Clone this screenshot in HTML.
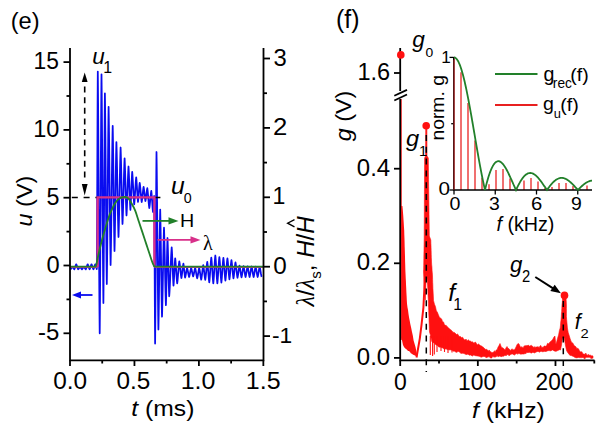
<!DOCTYPE html>
<html><head><meta charset="utf-8"><style>
html,body{margin:0;padding:0;background:#fff;width:606px;height:430px;overflow:hidden}
svg{display:block}
</style></head><body>
<svg width="606" height="430" viewBox="0 0 606 430">
<rect width="606" height="430" fill="#fff"/>
<path d="M70.50 269.30 L70.60 269.21 L70.70 269.12 L70.80 269.00 L70.90 268.88 L71.00 268.74 L71.10 268.60 L71.20 268.45 L71.30 268.29 L71.40 268.13 L71.50 267.97 L71.60 267.81 L71.70 267.65 L71.80 267.50 L71.90 267.36 L72.00 267.22 L72.10 267.10 L72.20 266.98 L72.30 266.89 L72.40 266.80 L72.50 266.89 L72.60 266.98 L72.70 267.10 L72.80 267.22 L72.91 267.36 L73.01 267.50 L73.11 267.65 L73.21 267.81 L73.31 267.97 L73.41 268.13 L73.51 268.29 L73.61 268.45 L73.71 268.60 L73.81 268.74 L73.92 268.88 L74.02 269.00 L74.12 269.12 L74.22 269.21 L74.32 269.30 L74.42 269.13 L74.52 268.93 L74.62 268.71 L74.72 268.46 L74.82 268.19 L74.92 267.90 L75.02 267.60 L75.12 267.28 L75.22 266.96 L75.32 266.64 L75.42 266.32 L75.52 266.00 L75.62 265.70 L75.72 265.41 L75.82 265.14 L75.92 264.89 L76.02 264.67 L76.12 264.47 L76.22 264.30 L76.32 264.47 L76.42 264.67 L76.52 264.89 L76.62 265.14 L76.73 265.41 L76.83 265.70 L76.93 266.00 L77.03 266.32 L77.13 266.64 L77.23 266.96 L77.33 267.28 L77.43 267.60 L77.53 267.90 L77.63 268.19 L77.74 268.46 L77.84 268.71 L77.94 268.93 L78.04 269.13 L78.14 269.30 L78.24 269.21 L78.34 269.12 L78.44 269.00 L78.54 268.88 L78.64 268.74 L78.74 268.60 L78.84 268.45 L78.94 268.29 L79.04 268.13 L79.14 267.97 L79.24 267.81 L79.34 267.65 L79.44 267.50 L79.54 267.36 L79.64 267.22 L79.74 267.10 L79.84 266.98 L79.94 266.89 L80.04 266.80 L80.14 266.89 L80.24 266.98 L80.34 267.10 L80.44 267.22 L80.55 267.36 L80.65 267.50 L80.75 267.65 L80.85 267.81 L80.95 267.97 L81.05 268.13 L81.15 268.29 L81.25 268.45 L81.35 268.60 L81.45 268.74 L81.56 268.88 L81.66 269.00 L81.76 269.12 L81.86 269.21 L81.96 269.30 L82.06 269.21 L82.16 269.12 L82.26 269.00 L82.36 268.88 L82.46 268.74 L82.56 268.60 L82.66 268.45 L82.76 268.29 L82.86 268.13 L82.96 267.97 L83.06 267.81 L83.16 267.65 L83.26 267.50 L83.36 267.36 L83.46 267.22 L83.56 267.10 L83.66 266.98 L83.76 266.89 L83.86 266.80 L83.96 266.89 L84.06 266.98 L84.16 267.10 L84.26 267.22 L84.37 267.36 L84.47 267.50 L84.57 267.65 L84.67 267.81 L84.77 267.97 L84.87 268.13 L84.97 268.29 L85.07 268.45 L85.17 268.60 L85.27 268.74 L85.38 268.88 L85.48 269.00 L85.58 269.12 L85.68 269.21 L85.78 269.30 L85.88 269.13 L85.98 268.93 L86.08 268.71 L86.18 268.46 L86.28 268.19 L86.38 267.90 L86.48 267.60 L86.58 267.28 L86.68 266.96 L86.78 266.64 L86.88 266.32 L86.98 266.00 L87.08 265.70 L87.18 265.41 L87.28 265.14 L87.38 264.89 L87.48 264.67 L87.58 264.47 L87.68 264.30 L87.78 264.47 L87.88 264.67 L87.98 264.89 L88.08 265.14 L88.19 265.41 L88.29 265.70 L88.39 266.00 L88.49 266.32 L88.59 266.64 L88.69 266.96 L88.79 267.28 L88.89 267.60 L88.99 267.90 L89.09 268.19 L89.20 268.46 L89.30 268.71 L89.40 268.93 L89.50 269.13 L89.60 269.30 L89.70 269.13 L89.80 268.93 L89.90 268.71 L90.00 268.46 L90.10 268.19 L90.20 267.90 L90.30 267.60 L90.40 267.28 L90.50 266.96 L90.60 266.64 L90.70 266.32 L90.80 266.00 L90.90 265.70 L91.00 265.41 L91.10 265.14 L91.20 264.89 L91.30 264.67 L91.40 264.47 L91.50 264.30 L91.60 264.47 L91.70 264.67 L91.80 264.89 L91.90 265.14 L92.01 265.41 L92.11 265.70 L92.21 266.00 L92.31 266.32 L92.41 266.64 L92.51 266.96 L92.61 267.28 L92.71 267.60 L92.81 267.90 L92.91 268.19 L93.02 268.46 L93.12 268.71 L93.22 268.93 L93.32 269.13 L93.42 269.30 L93.52 269.13 L93.62 268.93 L93.72 268.71 L93.82 268.46 L93.92 268.19 L94.02 267.90 L94.12 267.60 L94.22 267.28 L94.32 266.96 L94.42 266.64 L94.52 266.32 L94.62 266.00 L94.72 265.70 L94.82 265.41 L94.92 265.14 L95.02 264.89 L95.12 264.67 L95.22 264.47 L95.32 264.30 L95.43 264.52 L95.53 264.80 L95.64 265.11 L95.74 265.46 L95.85 265.84 L95.95 266.24 L96.06 266.65 L96.17 267.06 L96.27 267.46 L96.38 267.84 L96.48 268.19 L96.59 268.50 L96.69 268.78 L96.80 269.00 L96.90 255.22 L97.00 237.77 L97.10 217.19 L97.20 194.34 L97.30 170.30 L97.40 146.26 L97.50 123.41 L97.60 102.83 L97.70 85.38 L97.80 71.60 L97.90 80.58 L98.00 90.96 L98.10 102.70 L98.20 115.69 L98.30 129.81 L98.40 144.90 L98.50 160.76 L98.60 177.20 L98.70 194.00 L98.80 210.90 L98.90 227.70 L99.00 244.14 L99.10 260.00 L99.20 275.09 L99.30 289.21 L99.40 302.20 L99.50 313.94 L99.60 324.32 L99.70 333.30 L99.81 323.28 L99.91 311.52 L100.02 298.12 L100.12 283.22 L100.23 267.01 L100.34 249.74 L100.44 231.69 L100.55 213.15 L100.65 194.45 L100.76 175.91 L100.86 157.86 L100.97 140.59 L101.08 124.38 L101.18 109.48 L101.29 96.08 L101.39 84.32 L101.50 74.30 L101.60 82.15 L101.70 91.22 L101.80 101.48 L101.90 112.83 L102.00 125.17 L102.10 138.36 L102.20 152.22 L102.30 166.59 L102.40 181.26 L102.50 196.04 L102.60 210.71 L102.70 225.08 L102.80 238.94 L102.90 252.13 L103.00 264.47 L103.10 275.82 L103.20 286.08 L103.30 295.15 L103.40 303.00 L103.50 293.70 L103.60 282.60 L103.70 269.83 L103.80 255.57 L103.90 240.09 L104.00 223.69 L104.10 206.73 L104.20 189.57 L104.30 172.61 L104.40 156.21 L104.50 140.73 L104.60 126.47 L104.70 113.70 L104.80 102.60 L104.90 93.30 L105.01 100.24 L105.11 108.31 L105.22 117.48 L105.32 127.65 L105.43 138.71 L105.53 150.51 L105.64 162.89 L105.74 175.67 L105.85 188.65 L105.96 201.63 L106.06 214.41 L106.17 226.79 L106.27 238.59 L106.38 249.65 L106.48 259.82 L106.59 268.99 L106.69 277.06 L106.80 284.00 L106.91 277.14 L107.01 269.10 L107.12 259.93 L107.22 249.73 L107.33 238.65 L107.44 226.83 L107.54 214.48 L107.65 201.80 L107.75 189.00 L107.86 176.32 L107.96 163.97 L108.07 152.15 L108.18 141.07 L108.28 130.87 L108.39 121.70 L108.49 113.66 L108.60 106.80 L108.70 111.94 L108.80 117.84 L108.90 124.49 L109.00 131.83 L109.10 139.80 L109.20 148.32 L109.30 157.30 L109.40 166.63 L109.50 176.20 L109.60 185.90 L109.70 195.60 L109.80 205.17 L109.90 214.50 L110.00 223.48 L110.10 232.00 L110.20 239.97 L110.30 247.31 L110.40 253.96 L110.50 259.86 L110.60 265.00 L110.70 260.71 L110.80 255.81 L110.90 250.31 L111.00 244.25 L111.10 237.68 L111.20 230.66 L111.30 223.24 L111.40 215.51 L111.50 207.56 L111.60 199.47 L111.70 191.33 L111.80 183.24 L111.90 175.29 L112.00 167.56 L112.10 160.14 L112.20 153.12 L112.30 146.55 L112.40 140.49 L112.50 134.99 L112.60 130.09 L112.70 125.80 L112.81 130.65 L112.91 136.33 L113.02 142.81 L113.12 150.01 L113.23 157.84 L113.34 166.19 L113.44 174.92 L113.55 183.88 L113.65 192.92 L113.76 201.88 L113.86 210.61 L113.97 218.96 L114.08 226.79 L114.18 233.99 L114.29 240.47 L114.39 246.15 L114.50 251.00 L114.60 247.26 L114.70 242.94 L114.80 238.06 L114.90 232.65 L115.00 226.78 L115.10 220.50 L115.20 213.90 L115.30 207.06 L115.40 200.07 L115.50 193.03 L115.60 186.04 L115.70 179.20 L115.80 172.60 L115.90 166.32 L116.00 160.45 L116.10 155.04 L116.20 150.16 L116.30 145.84 L116.40 142.10 L116.51 145.18 L116.61 148.72 L116.72 152.71 L116.82 157.11 L116.93 161.89 L117.03 167.01 L117.14 172.39 L117.24 177.99 L117.34 183.73 L117.45 189.55 L117.56 195.37 L117.66 201.11 L117.77 206.71 L117.87 212.09 L117.97 217.21 L118.08 221.99 L118.19 226.39 L118.29 230.38 L118.39 233.92 L118.50 237.00 L118.61 234.09 L118.71 230.75 L118.81 226.99 L118.92 222.84 L119.03 218.33 L119.13 213.51 L119.23 208.43 L119.34 203.15 L119.44 197.74 L119.55 192.25 L119.66 186.76 L119.76 181.35 L119.86 176.07 L119.97 170.99 L120.07 166.17 L120.18 161.66 L120.28 157.51 L120.39 153.75 L120.49 150.41 L120.60 147.50 L120.70 150.12 L120.80 153.16 L120.90 156.59 L121.00 160.39 L121.10 164.52 L121.20 168.93 L121.30 173.56 L121.40 178.37 L121.50 183.28 L121.60 188.22 L121.70 193.13 L121.80 197.94 L121.90 202.57 L122.00 206.98 L122.10 211.11 L122.20 214.91 L122.30 218.34 L122.40 221.38 L122.50 224.00 L122.61 221.87 L122.71 219.42 L122.81 216.67 L122.92 213.62 L123.03 210.32 L123.13 206.78 L123.23 203.06 L123.34 199.19 L123.44 195.22 L123.55 191.20 L123.66 187.18 L123.76 183.21 L123.86 179.34 L123.97 175.62 L124.07 172.08 L124.18 168.78 L124.28 165.73 L124.39 162.98 L124.49 160.53 L124.60 158.40 L124.70 160.36 L124.80 162.63 L124.90 165.19 L125.00 168.02 L125.10 171.10 L125.20 174.39 L125.30 177.85 L125.40 181.44 L125.50 185.11 L125.60 188.79 L125.70 192.46 L125.80 196.05 L125.90 199.51 L126.00 202.80 L126.10 205.88 L126.20 208.71 L126.30 211.27 L126.40 213.54 L126.50 215.50 L126.60 213.91 L126.70 212.08 L126.80 210.02 L126.90 207.75 L127.00 205.28 L127.10 202.64 L127.20 199.86 L127.30 196.97 L127.40 194.00 L127.50 191.00 L127.60 188.00 L127.70 185.03 L127.80 182.14 L127.90 179.36 L128.00 176.72 L128.10 174.25 L128.20 171.98 L128.30 169.92 L128.40 168.09 L128.50 166.50 L128.60 167.99 L128.70 169.72 L128.80 171.67 L128.90 173.83 L129.00 176.18 L129.10 178.68 L129.20 181.32 L129.30 184.05 L129.40 186.84 L129.50 189.66 L129.60 192.45 L129.70 195.18 L129.80 197.82 L129.90 200.32 L130.00 202.67 L130.10 204.83 L130.20 206.78 L130.30 208.51 L130.40 210.00 L130.51 208.53 L130.61 206.80 L130.72 204.82 L130.82 202.63 L130.93 200.25 L131.04 197.71 L131.14 195.05 L131.25 192.33 L131.35 189.57 L131.46 186.85 L131.56 184.19 L131.67 181.65 L131.78 179.27 L131.88 177.08 L131.99 175.10 L132.09 173.37 L132.20 171.90 L132.30 172.96 L132.40 174.17 L132.50 175.53 L132.60 177.04 L132.70 178.68 L132.80 180.43 L132.90 182.27 L133.00 184.19 L133.10 186.16 L133.20 188.15 L133.30 190.14 L133.40 192.11 L133.50 194.03 L133.60 195.87 L133.70 197.62 L133.80 199.26 L133.90 200.77 L134.00 202.13 L134.10 203.34 L134.20 204.40 L134.30 203.52 L134.40 202.52 L134.50 201.38 L134.60 200.13 L134.70 198.77 L134.80 197.31 L134.90 195.78 L135.00 194.19 L135.10 192.55 L135.20 190.90 L135.30 189.25 L135.40 187.61 L135.50 186.02 L135.60 184.49 L135.70 183.03 L135.80 181.67 L135.90 180.42 L136.00 179.28 L136.10 178.28 L136.20 177.40 L136.30 178.29 L136.40 179.34 L136.50 180.52 L136.60 181.83 L136.70 183.26 L136.80 184.78 L136.90 186.38 L137.00 188.03 L137.10 189.70 L137.20 191.37 L137.30 193.02 L137.40 194.62 L137.50 196.14 L137.60 197.57 L137.70 198.88 L137.80 200.06 L137.90 201.11 L138.00 202.00 L138.11 201.21 L138.21 200.27 L138.32 199.19 L138.43 198.00 L138.53 196.69 L138.64 195.31 L138.74 193.87 L138.85 192.40 L138.96 190.93 L139.06 189.49 L139.17 188.11 L139.27 186.80 L139.38 185.61 L139.49 184.53 L139.59 183.59 L139.70 182.80 L139.80 183.42 L139.90 184.14 L140.00 184.95 L140.10 185.84 L140.20 186.80 L140.30 187.84 L140.40 188.93 L140.50 190.06 L140.60 191.22 L140.70 192.40 L140.80 193.58 L140.90 194.74 L141.00 195.87 L141.10 196.96 L141.20 198.00 L141.30 198.96 L141.40 199.85 L141.50 200.66 L141.60 201.38 L141.70 202.00 L141.80 201.48 L141.90 200.88 L142.00 200.19 L142.10 199.44 L142.20 198.62 L142.30 197.74 L142.40 196.82 L142.50 195.87 L142.60 194.89 L142.70 193.91 L142.80 192.93 L142.90 191.98 L143.00 191.06 L143.10 190.18 L143.20 189.36 L143.30 188.61 L143.40 187.92 L143.50 187.32 L143.60 186.80 L143.70 187.32 L143.80 187.92 L143.90 188.60 L144.00 189.36 L144.10 190.18 L144.20 191.06 L144.30 191.98 L144.40 192.93 L144.50 193.90 L144.60 194.87 L144.70 195.82 L144.80 196.74 L144.90 197.62 L145.00 198.44 L145.10 199.20 L145.20 199.88 L145.30 200.48 L145.40 201.00 L145.50 200.56 L145.60 200.05 L145.70 199.48 L145.80 198.84 L145.90 198.15 L146.00 197.41 L146.10 196.64 L146.20 195.83 L146.30 195.01 L146.40 194.19 L146.50 193.37 L146.60 192.56 L146.70 191.79 L146.80 191.05 L146.90 190.36 L147.00 189.72 L147.10 189.15 L147.20 188.64 L147.30 188.20 L147.40 188.84 L147.50 189.58 L147.60 190.41 L147.70 191.33 L147.80 192.33 L147.90 193.40 L148.00 194.52 L148.10 195.69 L148.20 196.89 L148.30 198.10 L148.40 199.31 L148.50 200.51 L148.60 201.68 L148.70 202.80 L148.80 203.87 L148.90 204.87 L149.00 205.79 L149.10 206.62 L149.20 207.36 L149.30 208.00 L149.40 207.44 L149.50 206.81 L149.60 206.09 L149.70 205.29 L149.80 204.43 L149.90 203.51 L150.00 202.54 L150.10 201.53 L150.20 200.50 L150.30 199.45 L150.40 198.40 L150.50 197.37 L150.60 196.36 L150.70 195.39 L150.80 194.47 L150.90 193.61 L151.00 192.81 L151.10 192.09 L151.20 191.46 L151.30 190.90 L151.41 191.77 L151.51 192.80 L151.62 193.98 L151.73 195.30 L151.83 196.73 L151.94 198.25 L152.04 199.84 L152.15 201.45 L152.26 203.06 L152.36 204.65 L152.47 206.17 L152.57 207.60 L152.68 208.92 L152.79 210.10 L152.89 211.13 L153.00 212.00 L153.11 211.00 L153.22 209.75 L153.33 208.28 L153.44 206.64 L153.55 204.89 L153.65 203.11 L153.76 201.36 L153.87 199.72 L153.98 198.25 L154.09 197.00 L154.20 196.00 L154.30 207.62 L154.40 222.59 L154.50 240.28 L154.60 259.75 L154.70 279.85 L154.80 299.32 L154.90 317.01 L155.00 331.98 L155.10 343.60 L155.20 334.43 L155.30 323.38 L155.40 310.61 L155.50 296.33 L155.60 280.85 L155.70 264.54 L155.80 247.80 L155.90 231.06 L156.00 214.75 L156.10 199.27 L156.20 184.99 L156.30 172.22 L156.40 161.17 L156.50 152.00 L156.60 158.09 L156.70 165.13 L156.80 173.09 L156.90 181.91 L157.00 191.48 L157.10 201.71 L157.20 212.48 L157.30 223.63 L157.40 235.02 L157.50 246.48 L157.60 257.87 L157.70 269.02 L157.80 279.79 L157.90 290.02 L158.00 299.59 L158.10 308.41 L158.20 316.37 L158.30 323.41 L158.40 329.50 L158.51 324.86 L158.61 319.42 L158.72 313.21 L158.82 306.31 L158.93 298.81 L159.04 290.82 L159.14 282.46 L159.25 273.88 L159.35 265.22 L159.46 256.64 L159.56 248.28 L159.67 240.29 L159.78 232.79 L159.88 225.89 L159.99 219.68 L160.09 214.24 L160.20 209.60 L160.30 213.50 L160.40 218.03 L160.50 223.18 L160.60 228.89 L160.70 235.10 L160.80 241.73 L160.90 248.68 L161.00 255.86 L161.10 263.15 L161.20 270.44 L161.30 277.62 L161.40 284.57 L161.50 291.20 L161.60 297.41 L161.70 303.12 L161.80 308.27 L161.90 312.80 L162.00 316.70 L162.10 313.81 L162.20 310.49 L162.30 306.75 L162.40 302.62 L162.50 298.14 L162.60 293.34 L162.70 288.29 L162.80 283.04 L162.90 277.65 L163.00 272.20 L163.10 266.75 L163.20 261.36 L163.30 256.11 L163.40 251.06 L163.50 246.26 L163.60 241.78 L163.70 237.65 L163.80 233.91 L163.90 230.59 L164.00 227.70 L164.10 230.36 L164.20 233.43 L164.30 236.91 L164.40 240.76 L164.50 244.94 L164.60 249.41 L164.70 254.11 L164.80 258.97 L164.90 263.95 L165.00 268.95 L165.10 273.93 L165.20 278.79 L165.30 283.49 L165.40 287.96 L165.50 292.14 L165.60 295.99 L165.70 299.47 L165.80 302.54 L165.90 305.20 L166.01 302.22 L166.11 298.66 L166.22 294.57 L166.33 290.00 L166.43 285.04 L166.54 279.79 L166.65 274.35 L166.75 268.85 L166.86 263.41 L166.97 258.16 L167.07 253.20 L167.18 248.63 L167.29 244.54 L167.39 240.98 L167.50 238.00 L167.61 240.41 L167.71 243.26 L167.82 246.52 L167.93 250.16 L168.03 254.11 L168.14 258.32 L168.24 262.69 L168.35 267.15 L168.46 271.61 L168.56 275.98 L168.67 280.19 L168.77 284.14 L168.88 287.78 L168.99 291.04 L169.09 293.89 L169.20 296.30 L169.30 295.05 L169.40 293.64 L169.50 292.08 L169.60 290.38 L169.70 288.55 L169.80 286.59 L169.90 284.51 L170.00 282.34 L170.10 280.09 L170.20 277.77 L170.30 275.40 L170.40 273.00 L170.50 270.60 L170.60 268.20 L170.70 265.83 L170.80 263.51 L170.90 261.26 L171.00 259.09 L171.10 257.01 L171.20 255.05 L171.30 253.22 L171.40 251.52 L171.50 249.96 L171.60 248.55 L171.70 247.30 L171.80 248.70 L171.90 250.32 L172.00 252.17 L172.10 254.22 L172.20 256.44 L172.30 258.82 L172.40 261.31 L172.50 263.89 L172.60 266.50 L172.70 269.11 L172.80 271.69 L172.90 274.18 L173.00 276.56 L173.10 278.78 L173.20 280.83 L173.30 282.68 L173.40 284.30 L173.50 285.70 L173.61 284.57 L173.71 283.24 L173.82 281.71 L173.93 280.01 L174.03 278.15 L174.14 276.19 L174.24 274.14 L174.35 272.05 L174.46 269.96 L174.56 267.91 L174.67 265.95 L174.77 264.09 L174.88 262.39 L174.99 260.86 L175.09 259.53 L175.20 258.40 L175.30 259.21 L175.40 260.14 L175.50 261.19 L175.60 262.35 L175.70 263.61 L175.80 264.96 L175.90 266.38 L176.00 267.85 L176.10 269.37 L176.20 270.90 L176.30 272.43 L176.40 273.95 L176.50 275.42 L176.60 276.84 L176.70 278.19 L176.80 279.45 L176.90 280.61 L177.00 281.66 L177.10 282.59 L177.20 283.40 L177.30 282.72 L177.40 281.94 L177.50 281.07 L177.60 280.11 L177.70 279.06 L177.80 277.95 L177.90 276.77 L178.00 275.54 L178.10 274.28 L178.20 273.00 L178.30 271.70 L178.40 270.42 L178.50 269.16 L178.60 267.93 L178.70 266.75 L178.80 265.64 L178.90 264.59 L179.00 263.63 L179.10 262.76 L179.20 261.98 L179.30 261.30 L179.41 261.84 L179.51 262.47 L179.62 263.17 L179.72 263.94 L179.83 264.78 L179.93 265.68 L180.03 266.63 L180.14 267.62 L180.25 268.63 L180.35 269.65 L180.46 270.67 L180.56 271.68 L180.67 272.67 L180.77 273.62 L180.88 274.52 L180.98 275.36 L181.09 276.13 L181.19 276.83 L181.30 277.46 L181.40 278.00 L181.50 277.53 L181.60 277.00 L181.70 276.39 L181.80 275.72 L181.90 275.00 L182.00 274.22 L182.10 273.40 L182.20 272.55 L182.30 271.68 L182.40 270.80 L182.50 269.92 L182.60 269.05 L182.70 268.20 L182.80 267.38 L182.90 266.60 L183.00 265.88 L183.10 265.21 L183.20 264.60 L183.30 264.07 L183.40 263.60 L183.51 264.18 L183.61 264.86 L183.72 265.65 L183.82 266.52 L183.93 267.47 L184.04 268.48 L184.14 269.53 L184.25 270.60 L184.36 271.67 L184.46 272.72 L184.57 273.73 L184.68 274.68 L184.78 275.55 L184.89 276.34 L184.99 277.02 L185.10 277.60 L185.20 277.29 L185.30 276.93 L185.40 276.53 L185.50 276.08 L185.60 275.60 L185.70 275.08 L185.81 274.54 L185.91 273.97 L186.01 273.39 L186.11 272.80 L186.21 272.21 L186.31 271.63 L186.41 271.06 L186.51 270.52 L186.61 270.00 L186.71 269.52 L186.81 269.07 L186.91 268.67 L187.01 268.31 L187.12 268.00 L187.22 268.29 L187.32 268.63 L187.42 269.01 L187.52 269.43 L187.62 269.88 L187.72 270.36 L187.82 270.88 L187.92 271.41 L188.02 271.95 L188.12 272.51 L188.22 273.06 L188.32 273.60 L188.42 274.13 L188.53 274.65 L188.63 275.13 L188.73 275.58 L188.83 276.00 L188.93 276.38 L189.03 276.72 L189.13 277.01 L189.23 276.72 L189.33 276.38 L189.43 276.00 L189.53 275.58 L189.63 275.13 L189.73 274.65 L189.84 274.13 L189.94 273.60 L190.04 273.06 L190.14 272.51 L190.24 271.95 L190.34 271.41 L190.44 270.88 L190.54 270.36 L190.64 269.88 L190.74 269.43 L190.84 269.01 L190.94 268.63 L191.04 268.29 L191.15 268.00 L191.25 268.27 L191.35 268.59 L191.45 268.94 L191.55 269.33 L191.65 269.76 L191.75 270.21 L191.85 270.69 L191.95 271.18 L192.05 271.69 L192.15 272.21 L192.25 272.73 L192.35 273.24 L192.45 273.73 L192.56 274.21 L192.66 274.66 L192.76 275.09 L192.86 275.48 L192.96 275.83 L193.06 276.15 L193.16 276.42 L193.26 276.15 L193.36 275.83 L193.46 275.48 L193.56 275.09 L193.66 274.66 L193.76 274.21 L193.87 273.73 L193.97 273.24 L194.07 272.73 L194.17 272.21 L194.27 271.69 L194.37 271.18 L194.47 270.69 L194.57 270.21 L194.67 269.76 L194.77 269.33 L194.87 268.94 L194.97 268.59 L195.07 268.27 L195.18 268.00 L195.28 268.34 L195.38 268.72 L195.48 269.16 L195.58 269.64 L195.68 270.16 L195.78 270.71 L195.88 271.30 L195.98 271.91 L196.08 272.54 L196.18 273.17 L196.28 273.81 L196.38 274.43 L196.48 275.04 L196.59 275.63 L196.69 276.19 L196.79 276.71 L196.89 277.19 L196.99 277.62 L197.09 278.01 L197.19 278.34 L197.29 278.01 L197.39 277.62 L197.49 277.19 L197.59 276.71 L197.69 276.19 L197.79 275.63 L197.90 275.04 L198.00 274.43 L198.10 273.81 L198.20 273.17 L198.30 272.54 L198.40 271.91 L198.50 271.30 L198.60 270.71 L198.70 270.16 L198.80 269.64 L198.90 269.16 L199.00 268.72 L199.10 268.34 L199.21 268.00 L199.31 268.38 L199.41 268.81 L199.51 269.30 L199.61 269.85 L199.71 270.43 L199.81 271.06 L199.91 271.73 L200.01 272.41 L200.11 273.12 L200.21 273.84 L200.31 274.55 L200.41 275.26 L200.51 275.95 L200.62 276.61 L200.72 277.24 L200.82 277.83 L200.92 278.37 L201.02 278.86 L201.12 279.29 L201.22 279.67 L201.32 279.20 L201.42 278.65 L201.52 278.04 L201.62 277.37 L201.72 276.63 L201.82 275.85 L201.93 275.02 L202.03 274.16 L202.13 273.28 L202.23 272.38 L202.33 271.49 L202.43 270.61 L202.53 269.75 L202.63 268.92 L202.73 268.14 L202.83 267.40 L202.93 266.72 L203.03 266.11 L203.13 265.57 L203.24 265.10 L203.34 265.58 L203.44 266.13 L203.54 266.75 L203.64 267.44 L203.74 268.18 L203.84 268.98 L203.94 269.82 L204.04 270.69 L204.14 271.59 L204.24 272.50 L204.34 273.40 L204.44 274.30 L204.54 275.17 L204.65 276.01 L204.75 276.81 L204.85 277.56 L204.95 278.24 L205.05 278.87 L205.15 279.42 L205.25 279.90 L205.35 279.32 L205.45 278.65 L205.55 277.89 L205.65 277.06 L205.75 276.15 L205.85 275.18 L205.96 274.16 L206.06 273.10 L206.16 272.02 L206.26 270.91 L206.36 269.81 L206.46 268.72 L206.56 267.66 L206.66 266.64 L206.76 265.68 L206.86 264.77 L206.96 263.94 L207.06 263.18 L207.16 262.51 L207.27 261.93 L207.37 262.59 L207.47 263.35 L207.57 264.21 L207.67 265.16 L207.77 266.19 L207.87 267.29 L207.97 268.44 L208.07 269.65 L208.17 270.88 L208.27 272.13 L208.37 273.39 L208.47 274.62 L208.57 275.83 L208.68 276.98 L208.78 278.08 L208.88 279.11 L208.98 280.06 L209.08 280.92 L209.18 281.68 L209.28 282.34 L209.38 281.54 L209.48 280.61 L209.58 279.57 L209.68 278.42 L209.78 277.17 L209.88 275.84 L209.99 274.43 L210.09 272.97 L210.19 271.47 L210.29 269.95 L210.39 268.43 L210.49 266.93 L210.59 265.47 L210.69 264.06 L210.79 262.73 L210.89 261.48 L210.99 260.33 L211.09 259.29 L211.19 258.36 L211.30 257.56 L211.40 258.40 L211.50 259.36 L211.60 260.45 L211.70 261.65 L211.80 262.95 L211.90 264.34 L212.00 265.81 L212.10 267.33 L212.20 268.90 L212.30 270.48 L212.40 272.06 L212.50 273.63 L212.60 275.15 L212.71 276.62 L212.81 278.01 L212.91 279.31 L213.01 280.51 L213.11 281.60 L213.21 282.56 L213.31 283.40 L213.41 282.49 L213.51 281.45 L213.61 280.28 L213.71 278.99 L213.81 277.58 L213.91 276.08 L214.02 274.49 L214.12 272.85 L214.22 271.16 L214.32 269.45 L214.42 267.74 L214.52 266.05 L214.62 264.41 L214.72 262.82 L214.82 261.32 L214.92 259.91 L215.02 258.62 L215.12 257.45 L215.22 256.41 L215.33 255.50 L215.43 256.41 L215.53 257.45 L215.63 258.62 L215.73 259.91 L215.83 261.32 L215.93 262.82 L216.03 264.41 L216.13 266.05 L216.23 267.74 L216.33 269.45 L216.43 271.16 L216.53 272.85 L216.63 274.49 L216.74 276.08 L216.84 277.58 L216.94 278.99 L217.04 280.28 L217.14 281.45 L217.24 282.49 L217.34 283.40 L217.44 282.55 L217.54 281.56 L217.64 280.46 L217.74 279.24 L217.84 277.91 L217.94 276.50 L218.05 275.01 L218.15 273.45 L218.25 271.86 L218.35 270.25 L218.45 268.64 L218.55 267.05 L218.65 265.50 L218.75 264.00 L218.85 262.59 L218.95 261.26 L219.05 260.04 L219.15 258.94 L219.25 257.96 L219.36 257.10 L219.46 257.93 L219.56 258.88 L219.66 259.94 L219.76 261.12 L219.86 262.40 L219.96 263.77 L220.06 265.22 L220.16 266.72 L220.26 268.25 L220.36 269.81 L220.46 271.37 L220.56 272.91 L220.66 274.41 L220.77 275.85 L220.87 277.22 L220.97 278.50 L221.07 279.68 L221.17 280.75 L221.27 281.70 L221.37 282.52 L221.47 281.72 L221.57 280.80 L221.67 279.76 L221.77 278.61 L221.87 277.37 L221.97 276.03 L222.08 274.63 L222.18 273.17 L222.28 271.68 L222.38 270.16 L222.48 268.65 L222.58 267.15 L222.68 265.69 L222.78 264.29 L222.88 262.96 L222.98 261.71 L223.08 260.56 L223.18 259.53 L223.28 258.60 L223.39 257.80 L223.49 258.54 L223.59 259.40 L223.69 260.36 L223.79 261.43 L223.89 262.58 L223.99 263.82 L224.09 265.12 L224.19 266.47 L224.29 267.86 L224.39 269.26 L224.49 270.66 L224.59 272.05 L224.69 273.40 L224.80 274.70 L224.90 275.94 L225.00 277.09 L225.10 278.16 L225.20 279.12 L225.30 279.98 L225.40 280.72 L225.50 279.99 L225.60 279.15 L225.70 278.21 L225.80 277.17 L225.90 276.04 L226.00 274.84 L226.11 273.56 L226.21 272.24 L226.31 270.88 L226.41 269.51 L226.51 268.14 L226.61 266.78 L226.71 265.46 L226.81 264.18 L226.91 262.98 L227.01 261.85 L227.11 260.81 L227.21 259.86 L227.31 259.03 L227.42 258.30 L227.52 258.98 L227.62 259.77 L227.72 260.65 L227.82 261.63 L227.92 262.68 L228.02 263.82 L228.12 265.01 L228.22 266.25 L228.32 267.52 L228.42 268.81 L228.52 270.10 L228.62 271.37 L228.72 272.61 L228.83 273.81 L228.93 274.94 L229.03 276.00 L229.13 276.97 L229.23 277.86 L229.33 278.64 L229.43 279.32 L229.53 278.70 L229.63 277.98 L229.73 277.18 L229.83 276.29 L229.93 275.32 L230.03 274.29 L230.14 273.20 L230.24 272.07 L230.34 270.91 L230.44 269.73 L230.54 268.56 L230.64 267.40 L230.74 266.27 L230.84 265.18 L230.94 264.15 L231.04 263.18 L231.14 262.29 L231.24 261.48 L231.34 260.77 L231.45 260.15 L231.55 260.74 L231.65 261.42 L231.75 262.18 L231.85 263.03 L231.95 263.95 L232.05 264.93 L232.15 265.96 L232.25 267.04 L232.35 268.14 L232.45 269.26 L232.55 270.37 L232.65 271.47 L232.75 272.55 L232.86 273.58 L232.96 274.57 L233.06 275.48 L233.16 276.33 L233.26 277.09 L233.36 277.77 L233.46 278.37 L233.56 277.85 L233.66 277.25 L233.76 276.58 L233.86 275.84 L233.96 275.03 L234.06 274.17 L234.17 273.26 L234.27 272.32 L234.37 271.35 L234.47 270.37 L234.57 269.39 L234.67 268.43 L234.77 267.48 L234.87 266.58 L234.97 265.71 L235.07 264.91 L235.17 264.17 L235.27 263.50 L235.37 262.90 L235.48 262.38 L235.58 262.88 L235.68 263.45 L235.78 264.10 L235.88 264.81 L235.98 265.59 L236.08 266.41 L236.18 267.29 L236.28 268.19 L236.38 269.12 L236.48 270.07 L236.58 271.01 L236.68 271.94 L236.78 272.84 L236.89 273.72 L236.99 274.54 L237.09 275.32 L237.19 276.03 L237.29 276.68 L237.39 277.25 L237.49 277.75 L237.59 277.36 L237.69 276.90 L237.79 276.39 L237.89 275.83 L237.99 275.22 L238.09 274.56 L238.20 273.87 L238.30 273.16 L238.40 272.42 L238.50 271.68 L238.60 270.93 L238.70 270.20 L238.80 269.48 L238.90 268.79 L239.00 268.14 L239.10 267.53 L239.20 266.96 L239.30 266.45 L239.40 266.00 L239.51 265.60 L239.61 265.99 L239.71 266.42 L239.81 266.92 L239.91 267.46 L240.01 268.05 L240.11 268.69 L240.21 269.35 L240.31 270.05 L240.41 270.76 L240.51 271.48 L240.61 272.20 L240.71 272.91 L240.81 273.60 L240.92 274.27 L241.02 274.90 L241.12 275.49 L241.22 276.04 L241.32 276.53 L241.42 276.97 L241.52 277.35 L241.62 276.98 L241.72 276.57 L241.82 276.10 L241.92 275.58 L242.02 275.01 L242.12 274.41 L242.23 273.77 L242.33 273.11 L242.43 272.44 L242.53 271.75 L242.63 271.06 L242.73 270.39 L242.83 269.73 L242.93 269.09 L243.03 268.49 L243.13 267.92 L243.23 267.41 L243.33 266.93 L243.43 266.52 L243.54 266.15 L243.64 266.51 L243.74 266.91 L243.84 267.37 L243.94 267.87 L244.04 268.42 L244.14 269.00 L244.24 269.62 L244.34 270.26 L244.44 270.91 L244.54 271.58 L244.64 272.24 L244.74 272.90 L244.84 273.54 L244.95 274.15 L245.05 274.74 L245.15 275.28 L245.25 275.79 L245.35 276.24 L245.45 276.65 L245.55 277.00 L245.65 276.65 L245.75 276.26 L245.85 275.81 L245.95 275.31 L246.05 274.77 L246.15 274.20 L246.26 273.59 L246.36 272.96 L246.46 272.32 L246.56 271.66 L246.66 271.01 L246.76 270.36 L246.86 269.74 L246.96 269.13 L247.06 268.55 L247.16 268.02 L247.26 267.52 L247.36 267.07 L247.46 266.68 L247.57 266.33 L247.67 266.68 L247.77 267.07 L247.87 267.52 L247.97 268.02 L248.07 268.55 L248.17 269.13 L248.27 269.74 L248.37 270.36 L248.47 271.01 L248.57 271.66 L248.67 272.32 L248.77 272.96 L248.87 273.59 L248.98 274.20 L249.08 274.77 L249.18 275.31 L249.28 275.81 L249.38 276.26 L249.48 276.65 L249.58 277.00 L249.68 276.66 L249.78 276.27 L249.88 275.83 L249.98 275.34 L250.08 274.81 L250.18 274.25 L250.29 273.65 L250.39 273.03 L250.49 272.40 L250.59 271.75 L250.69 271.11 L250.79 270.47 L250.89 269.85 L250.99 269.26 L251.09 268.69 L251.19 268.16 L251.29 267.68 L251.39 267.24 L251.49 266.84 L251.60 266.50 L251.70 266.84 L251.80 267.24 L251.90 267.68 L252.00 268.16 L252.10 268.69 L252.20 269.26 L252.30 269.85 L252.40 270.47 L252.50 271.11 L252.60 271.75 L252.70 272.40 L252.80 273.03 L252.90 273.65 L253.01 274.25 L253.11 274.81 L253.21 275.34 L253.31 275.83 L253.41 276.27 L253.51 276.66 L253.61 277.00 L253.71 276.66 L253.81 276.28 L253.91 275.85 L254.01 275.37 L254.11 274.85 L254.21 274.29 L254.32 273.71 L254.42 273.10 L254.52 272.47 L254.62 271.84 L254.72 271.21 L254.82 270.58 L254.92 269.97 L255.02 269.39 L255.12 268.83 L255.22 268.31 L255.32 267.83 L255.42 267.40 L255.52 267.01 L255.62 266.68 L255.73 267.01 L255.83 267.40 L255.93 267.83 L256.03 268.31 L256.13 268.83 L256.23 269.39 L256.33 269.97 L256.43 270.58 L256.53 271.21 L256.63 271.84 L256.73 272.47 L256.83 273.10 L256.93 273.71 L257.04 274.29 L257.14 274.85 L257.24 275.37 L257.34 275.85 L257.44 276.28 L257.54 276.66 L257.64 277.00 L257.74 276.67 L257.84 276.29 L257.94 275.87 L258.04 275.40 L258.14 274.88 L258.24 274.34 L258.35 273.76 L258.45 273.16 L258.55 272.55 L258.65 271.93 L258.75 271.31 L258.85 270.69 L258.95 270.09 L259.05 269.52 L259.15 268.97 L259.25 268.46 L259.35 267.99 L259.45 267.56 L259.55 267.18 L259.65 266.85 L259.76 267.18 L259.86 267.56 L259.96 267.99 L260.06 268.46 L260.16 268.97 L260.26 269.52 L260.36 270.09 L260.46 270.69 L260.56 271.31 L260.66 271.93 L260.76 272.55 L260.86 273.16 L260.96 273.76 L261.07 274.34 L261.17 274.88 L261.27 275.40 L261.37 275.87 L261.47 276.29 L261.57 276.67 L261.67 277.00" fill="none" stroke="#0a0cf0" stroke-width="1.75" stroke-linejoin="round"/>
<line x1="71.8" y1="197.5" x2="160.6" y2="197.5" stroke="#000" stroke-width="1.6" stroke-dasharray="6 5.8"/>
<path d="M70.5 267.2 L97.6 267.2 M154.4 267.2 L263 267.2" fill="none" stroke="#d8308a" stroke-width="1.6"/>
<path d="M97.6 267 L97.6 197.4 L154.4 197.4 L154.4 267" fill="none" stroke="#d8308a" stroke-width="2.4"/>
<path d="M70.5 266.7 L95.5 266.7 L95.60 266.70 C95.77 266.17 96.08 265.72 96.60 263.50 C97.12 261.28 97.90 256.95 98.70 253.40 C99.50 249.85 100.48 245.77 101.40 242.20 C102.32 238.63 103.27 235.25 104.20 232.00 C105.13 228.75 106.07 225.65 107.00 222.70 C107.93 219.75 108.87 216.78 109.80 214.30 C110.73 211.82 111.67 209.72 112.60 207.80 C113.53 205.88 114.47 204.20 115.40 202.80 C116.33 201.40 117.12 200.30 118.20 199.40 C119.28 198.50 120.67 197.80 121.90 197.40 C123.13 197.00 124.50 196.80 125.60 197.00 C126.70 197.20 127.53 197.60 128.50 198.60 C129.47 199.60 130.28 201.00 131.40 203.00 C132.52 205.00 133.95 207.47 135.20 210.60 C136.45 213.73 137.67 218.08 138.90 221.80 C140.13 225.52 141.37 229.18 142.60 232.90 C143.83 236.62 145.07 240.37 146.30 244.10 C147.53 247.83 148.95 252.15 150.00 255.30 C151.05 258.45 151.90 261.18 152.60 263.00 C153.30 264.82 153.70 265.58 154.20 266.20 C154.70 266.82 155.37 266.62 155.60 266.70 L263 266.7" fill="none" stroke="#22802a" stroke-width="1.8"/>
<line x1="84.7" y1="86.6" x2="84.7" y2="178" stroke="#000" stroke-width="1.6" stroke-dasharray="6 4.6"/>
<path d="M84.7 72.5 L81.8 82 L87.6 82 Z" fill="#000"/>
<path d="M84.7 195.5 L81.8 184 L87.6 184 Z" fill="#000"/>
<line x1="142.5" y1="220.9" x2="171" y2="220.9" stroke="#22802a" stroke-width="1.8"/>
<path d="M178.5 220.9 L168.5 217.3 L168.5 224.5 Z" fill="#22802a"/>
<line x1="157.5" y1="239.9" x2="193" y2="239.9" stroke="#d8308a" stroke-width="1.8"/>
<path d="M200.5 239.9 L190.5 236.3 L190.5 243.5 Z" fill="#d8308a"/>
<line x1="79" y1="295" x2="92.5" y2="295" stroke="#0a0cf0" stroke-width="1.8"/>
<path d="M72 295 L81 291.5 L81 298.5 Z" fill="#0a0cf0"/>
<g stroke="#000" stroke-width="1.8" fill="none">
<path d="M70 48 L70 360.3 L263.5 360.3 L263.5 48"/>
<line x1="63.5" y1="333.30" x2="70" y2="333.30"/>
<line x1="63.5" y1="265.50" x2="70" y2="265.50"/>
<line x1="63.5" y1="197.70" x2="70" y2="197.70"/>
<line x1="63.5" y1="129.90" x2="70" y2="129.90"/>
<line x1="63.5" y1="62.10" x2="70" y2="62.10"/>
<line x1="66.5" y1="299.40" x2="70" y2="299.40"/>
<line x1="66.5" y1="231.60" x2="70" y2="231.60"/>
<line x1="66.5" y1="163.80" x2="70" y2="163.80"/>
<line x1="66.5" y1="96.00" x2="70" y2="96.00"/>
<line x1="263.5" y1="336.10" x2="270" y2="336.10"/>
<line x1="263.5" y1="266.70" x2="270" y2="266.70"/>
<line x1="263.5" y1="197.30" x2="270" y2="197.30"/>
<line x1="263.5" y1="127.90" x2="270" y2="127.90"/>
<line x1="263.5" y1="58.50" x2="270" y2="58.50"/>
<line x1="263.5" y1="301.40" x2="267" y2="301.40"/>
<line x1="263.5" y1="232.00" x2="267" y2="232.00"/>
<line x1="263.5" y1="162.60" x2="267" y2="162.60"/>
<line x1="263.5" y1="93.20" x2="267" y2="93.20"/>
<line x1="70.00" y1="360.3" x2="70.00" y2="366"/>
<line x1="134.45" y1="360.3" x2="134.45" y2="366"/>
<line x1="198.90" y1="360.3" x2="198.90" y2="366"/>
<line x1="263.35" y1="360.3" x2="263.35" y2="366"/>
<line x1="102.22" y1="360.3" x2="102.22" y2="363.5"/>
<line x1="166.68" y1="360.3" x2="166.68" y2="363.5"/>
<line x1="231.12" y1="360.3" x2="231.12" y2="363.5"/>
</g>
<path d="M401.20 206.00 L402.40 206.00 L402.80 210.08 L403.20 215.00 L403.45 218.97 L403.70 222.59 L403.95 226.87 L404.20 230.60 L404.32 234.68 L404.44 237.66 L404.56 241.46 L404.68 246.66 L404.80 250.00 L404.90 253.16 L405.00 256.67 L405.10 261.44 L405.20 264.15 L405.30 268.29 L405.40 271.30 L405.56 274.60 L405.72 278.20 L405.88 280.76 L406.04 284.88 L406.20 288.00 L406.40 292.54 L406.60 295.94 L406.80 300.24 L407.00 303.80 L407.50 307.47 L408.00 309.90 L408.50 314.00 L409.10 317.75 L409.70 320.81 L410.30 324.00 L411.15 327.68 L412.00 332.00 L412.80 335.45 L413.60 340.40 L415.50 347.00 L416.55 352.33 L417.60 356.50 L416.40 355.96 L415.20 355.85 L414.00 355.00 L413.00 354.86 L412.00 353.84 L411.00 353.42 L410.00 352.00 L409.00 351.08 L408.00 350.98 L407.00 349.66 L406.00 349.00 L405.00 348.36 L404.00 346.94 L403.00 345.00 L402.10 340.86 L401.20 338.00 Z" fill="#ff1010"/>
<path d="M416.5 357.5 L419.8 338.6 L421.5 325 L423.4 307.6 L424.3 290 L424.8 270" fill="none" stroke="#ff1010" stroke-width="2"/>
<path d="M423.60 272.00 L423.72 265.20 L423.84 258.40 L423.96 251.60 L424.08 244.80 L424.20 238.00 L424.23 231.33 L424.27 224.67 L424.30 218.00 L424.33 211.33 L424.37 204.67 L424.40 198.00 L424.43 191.33 L424.47 184.67 L424.50 178.00 L424.53 171.33 L424.57 164.67 L424.60 158.00 L425.60 156.00 L425.62 149.00 L425.65 142.00 L425.68 135.00 L425.70 128.00 L426.90 128.00 L426.92 135.00 L426.95 142.00 L426.98 149.00 L427.00 156.00 L428.30 158.00 L428.39 165.09 L428.48 172.18 L428.57 179.27 L428.66 186.36 L428.75 193.45 L428.85 200.55 L428.94 207.64 L429.03 214.73 L429.12 221.82 L429.21 228.91 L429.30 236.00 L430.80 240.00 L430.80 240.00 L430.89 243.41 L430.98 245.30 L431.06 247.48 L431.15 250.55 L431.24 254.34 L431.32 257.32 L431.41 258.25 L431.50 262.00 L431.70 265.05 L431.90 266.60 L432.10 270.88 L432.30 272.83 L432.50 276.00 L432.60 279.64 L432.70 282.66 L432.80 284.41 L432.90 288.30 L433.00 290.00 L433.17 293.08 L433.33 296.07 L433.50 300.50 L434.47 304.22 L435.43 306.47 L436.40 311.00 L437.30 312.08 L438.20 314.30 L439.10 316.49 L440.00 318.00 L440.88 318.32 L441.75 319.14 L442.62 322.03 L443.50 321.89 L444.38 324.38 L445.25 325.32 L446.12 325.26 L447.00 326.60 L447.86 327.21 L448.72 328.04 L449.58 329.02 L450.44 329.61 L451.30 330.23 L452.16 331.06 L453.02 332.47 L453.88 332.22 L454.74 332.75 L455.60 333.60 L456.48 334.60 L457.36 334.06 L458.24 334.72 L459.12 336.73 L460.00 336.20 L460.88 336.95 L461.76 337.71 L462.64 337.23 L463.52 338.81 L464.40 339.70 L465.20 340.06 L466.00 339.02 L466.80 340.51 L467.60 340.73 L468.40 339.66 L469.20 341.09 L470.00 341.00 L470.83 341.27 L471.67 342.08 L472.50 341.70 L473.33 342.82 L474.17 343.23 L475.00 342.00 L475.83 342.42 L476.67 344.12 L477.50 345.09 L478.33 343.87 L479.17 344.66 L480.00 345.10 L480.83 345.95 L481.67 346.00 L482.50 346.75 L483.33 347.29 L484.17 348.06 L485.00 349.00 L485.83 349.61 L486.67 349.36 L487.50 349.93 L488.33 351.20 L489.17 349.96 L490.00 351.40 L491.00 351.92 L492.00 352.65 L493.00 352.50 L493.80 351.58 L494.60 350.89 L495.40 351.67 L496.20 349.93 L497.00 350.00 L498.00 347.15 L499.00 345.52 L500.00 343.50 L501.00 346.19 L502.00 348.00 L503.00 347.79 L504.00 348.94 L505.00 350.00 L506.00 347.88 L507.00 346.50 L508.00 348.40 L509.00 348.70 L510.00 350.00 L510.83 350.62 L511.67 348.94 L512.50 349.14 L513.33 349.66 L514.17 350.01 L515.00 349.00 L516.00 347.06 L517.00 344.73 L518.00 343.50 L519.00 344.00 L520.00 346.23 L521.00 347.50 L521.80 346.56 L522.60 347.65 L523.40 347.46 L524.20 345.76 L525.00 346.20 L526.00 345.31 L527.00 346.08 L528.00 345.00 L528.88 345.61 L529.75 346.27 L530.62 345.56 L531.50 345.39 L532.38 346.04 L533.25 347.45 L534.12 346.60 L535.00 347.40 L535.83 346.95 L536.67 346.98 L537.50 346.87 L538.33 346.73 L539.17 347.74 L540.00 345.94 L540.83 345.49 L541.67 347.44 L542.50 347.19 L543.33 347.30 L544.17 345.97 L545.00 346.00 L545.83 346.31 L546.67 345.57 L547.50 343.34 L548.33 343.81 L549.17 343.32 L550.00 341.90 L550.90 341.46 L551.80 340.34 L552.70 339.50 L553.80 337.29 L554.90 336.00 L555.35 339.65 L555.80 344.00 L556.40 343.00 L557.50 338.40 L558.60 335.00 L559.40 330.55 L560.20 328.00 L560.48 325.32 L560.75 321.78 L561.02 320.06 L561.30 316.50 L561.47 312.62 L561.65 311.64 L561.83 308.30 L562.00 305.00 L562.30 302.43 L562.60 298.00 L563.45 298.87 L564.30 298.88 L565.15 298.17 L566.00 298.00 L566.20 300.43 L566.40 305.00 L566.40 308.41 L566.40 310.03 L566.40 313.18 L566.40 316.50 L566.65 319.73 L566.90 322.30 L567.15 324.94 L567.40 328.00 L568.20 332.47 L569.00 335.00 L570.15 338.75 L571.30 342.00 L572.24 342.65 L573.18 343.46 L574.12 345.80 L575.06 345.95 L576.00 347.00 L576.83 348.45 L577.67 348.34 L578.50 348.83 L579.33 350.41 L580.17 351.86 L581.00 352.00 L581.80 351.63 L582.60 353.34 L583.40 353.98 L584.20 354.07 L585.00 354.46 L585.80 353.02 L586.60 354.73 L587.40 355.60 L588.20 354.16 L589.00 355.50 L589.80 355.10 L590.60 355.19 L591.40 355.86 L592.20 355.73 L593.00 356.00 L593.00 358.20 L592.00 358.12 L591.00 358.64 L590.00 357.21 L589.00 357.28 L588.00 357.37 L587.00 357.34 L586.00 357.21 L585.00 358.81 L584.00 358.56 L583.00 357.15 L582.00 357.87 L581.00 357.50 L580.00 357.80 L579.00 357.41 L578.00 357.41 L577.00 357.88 L576.00 357.72 L575.00 357.50 L574.00 356.85 L573.00 356.14 L572.00 355.99 L571.00 355.22 L570.00 355.50 L568.83 353.93 L567.67 352.56 L566.50 350.50 L565.40 345.00 L564.80 341.28 L564.20 338.00 L562.60 338.00 L562.05 340.74 L561.50 345.00 L560.50 350.00 L559.25 349.67 L558.00 350.50 L557.00 350.72 L556.00 351.40 L555.00 351.12 L554.00 350.98 L553.00 350.00 L552.00 349.96 L551.00 350.89 L550.00 350.75 L549.00 350.58 L548.00 350.65 L547.00 351.04 L546.00 351.59 L545.00 351.40 L544.00 351.33 L543.00 351.90 L542.00 351.55 L541.00 351.23 L540.00 351.83 L539.00 352.19 L538.00 351.14 L537.00 351.85 L536.00 351.93 L535.00 352.82 L534.00 352.99 L533.00 352.05 L532.00 353.07 L531.00 352.95 L530.00 352.50 L529.00 352.21 L528.00 352.72 L527.00 352.24 L526.00 353.62 L525.00 353.49 L524.00 354.04 L523.00 354.01 L522.00 353.92 L521.00 354.18 L520.00 354.01 L519.00 353.33 L518.00 354.34 L517.00 353.43 L516.00 353.82 L515.00 354.60 L514.00 355.17 L513.00 353.94 L512.00 354.11 L511.00 354.20 L510.00 355.00 L509.00 355.78 L508.00 354.62 L507.00 354.44 L506.00 356.01 L505.00 354.82 L504.00 356.22 L503.00 356.01 L502.00 356.41 L501.00 356.71 L500.00 356.00 L499.00 356.29 L498.00 356.84 L497.00 355.62 L496.00 357.08 L495.00 356.77 L494.00 357.29 L493.00 356.34 L492.00 357.65 L491.00 358.13 L490.00 357.50 L489.00 356.62 L488.00 357.00 L487.00 357.35 L486.00 357.73 L485.00 356.59 L484.00 356.38 L483.00 356.42 L482.00 356.99 L481.00 357.15 L480.00 356.60 L479.00 356.25 L478.00 356.04 L477.00 355.93 L476.00 355.69 L475.00 355.65 L474.00 354.89 L473.00 355.48 L472.00 356.17 L471.00 355.00 L470.00 355.00 L469.00 355.20 L468.00 353.89 L467.00 354.59 L466.00 354.46 L465.00 354.06 L464.00 353.53 L463.00 353.22 L462.00 353.26 L461.00 353.47 L460.00 352.50 L459.00 351.64 L458.00 351.31 L457.00 352.25 L456.00 352.33 L455.00 351.38 L454.00 351.01 L453.00 351.28 L452.00 350.09 L451.00 350.00 L450.00 349.65 L449.00 350.12 L448.00 349.40 L447.00 349.50 L446.00 348.66 L445.00 349.13 L444.00 349.24 L443.00 347.70 L442.00 348.08 L441.00 347.20 L440.00 347.00 L439.00 347.14 L438.00 346.15 L437.00 345.08 L436.00 345.00 L435.00 343.74 L434.00 342.64 L433.00 342.71 L432.00 342.00 L431.17 338.46 L430.33 334.74 L429.50 332.00 L429.37 328.19 L429.23 324.57 L429.10 321.83 L428.97 317.14 L428.83 315.11 L428.70 310.63 L428.57 307.29 L428.43 303.50 L428.30 300.00 L428.12 296.85 L427.95 293.08 L427.78 288.85 L427.60 285.00 L427.33 281.63 L427.07 278.73 L426.80 275.00 L426.47 278.98 L426.13 281.49 L425.80 285.00 L425.68 289.17 L425.55 293.33 L425.43 296.19 L425.30 300.00 L425.12 295.76 L424.95 292.02 L424.78 289.14 L424.60 285.00 Z" fill="#ff1010" stroke="#ff1010" stroke-width="0.6" stroke-linejoin="round"/>
<line x1="401.0" y1="99" x2="401.0" y2="340" stroke="#ff1010" stroke-width="1.4"/>
<line x1="430.3" y1="336" x2="430.3" y2="355.0" stroke="#ff1010" stroke-width="1.1"/>
<line x1="432.6" y1="336" x2="432.6" y2="356.0" stroke="#ff1010" stroke-width="1.1"/>
<line x1="434.3" y1="336" x2="434.3" y2="354.5" stroke="#ff1010" stroke-width="1.1"/>
<line x1="437.0" y1="336" x2="437.0" y2="352.0" stroke="#ff1010" stroke-width="1.1"/>
<line x1="441.0" y1="336" x2="441.0" y2="351.0" stroke="#ff1010" stroke-width="1.1"/>
<line x1="444.5" y1="336" x2="444.5" y2="352.0" stroke="#ff1010" stroke-width="1.1"/>
<line x1="448.0" y1="336" x2="448.0" y2="353.0" stroke="#ff1010" stroke-width="1.1"/>
<line x1="452.0" y1="336" x2="452.0" y2="352.5" stroke="#ff1010" stroke-width="1.1"/>
<line x1="426.3" y1="135" x2="426.3" y2="372" stroke="#000" stroke-width="1.5" stroke-dasharray="6 5.8"/>
<line x1="563.3" y1="301" x2="563.3" y2="372" stroke="#000" stroke-width="1.5" stroke-dasharray="6 5.8"/>
<g stroke="#000" stroke-width="1.8" fill="none">
<path d="M400.2 48 L400.2 360.3 L594.5 360.3"/>
<line x1="394" y1="357.90" x2="400.2" y2="357.90"/>
<line x1="394" y1="263.30" x2="400.2" y2="263.30"/>
<line x1="394" y1="168.70" x2="400.2" y2="168.70"/>
<line x1="394" y1="73" x2="400.2" y2="73"/>
<line x1="400.20" y1="360.3" x2="400.20" y2="366"/>
<line x1="477.84" y1="360.3" x2="477.84" y2="366"/>
<line x1="555.48" y1="360.3" x2="555.48" y2="366"/>
<line x1="439.02" y1="360.3" x2="439.02" y2="363.5"/>
<line x1="516.66" y1="360.3" x2="516.66" y2="363.5"/>
<line x1="594.30" y1="360.3" x2="594.30" y2="363.5"/>
</g>
<rect x="392" y="91" width="16" height="8" fill="#fff"/>
<line x1="394.3" y1="95.8" x2="407" y2="89.9" stroke="#000" stroke-width="1.8"/>
<line x1="394.3" y1="100.5" x2="407" y2="94.5" stroke="#000" stroke-width="1.8"/>
<circle cx="400.8" cy="54.9" r="3.8" fill="#ff1010"/>
<circle cx="426.2" cy="125.7" r="3.8" fill="#ff1010"/>
<circle cx="564.5" cy="295.4" r="3.8" fill="#ff1010"/>
<line x1="535.3" y1="277" x2="553.5" y2="288.6" stroke="#000" stroke-width="2"/>
<path d="M560.9 293.3 L550.3 291.1 L554.7 284.7 Z" fill="#000"/>
<g stroke="#f07070" stroke-width="2">
<line x1="454.0" y1="57.0" x2="454.0" y2="190"/>
<line x1="461.0" y1="72.3" x2="461.0" y2="190"/>
<line x1="468.0" y1="103.0" x2="468.0" y2="190"/>
<line x1="475.0" y1="140.5" x2="475.0" y2="190"/>
<line x1="482.0" y1="177.7" x2="482.0" y2="190"/>
<line x1="489.0" y1="184.2" x2="489.0" y2="190"/>
<line x1="496.0" y1="169.9" x2="496.0" y2="190"/>
<line x1="503.0" y1="168.9" x2="503.0" y2="190"/>
<line x1="510.0" y1="178.6" x2="510.0" y2="190"/>
<line x1="517.0" y1="188.5" x2="517.0" y2="190"/>
<line x1="524.0" y1="180.5" x2="524.0" y2="190"/>
<line x1="531.0" y1="178.0" x2="531.0" y2="190"/>
<line x1="538.0" y1="181.5" x2="538.0" y2="190"/>
<line x1="545.0" y1="188.0" x2="545.0" y2="190"/>
<line x1="552.0" y1="187.0" x2="552.0" y2="190"/>
<line x1="559.0" y1="183.0" x2="559.0" y2="190"/>
<line x1="566.0" y1="183.0" x2="566.0" y2="190"/>
<line x1="573.0" y1="186.0" x2="573.0" y2="190"/>
<line x1="580.0" y1="189.6" x2="580.0" y2="190"/>
<line x1="587.0" y1="185.4" x2="587.0" y2="190"/>
</g>
<g stroke="#000" stroke-width="1.3" fill="none">
<path d="M453.7 57 L453.7 190 L592 190"/>
<line x1="454.00" y1="190" x2="454.00" y2="194.5"/>
<line x1="495.25" y1="190" x2="495.25" y2="194.5"/>
<line x1="536.50" y1="190" x2="536.50" y2="194.5"/>
<line x1="577.75" y1="190" x2="577.75" y2="194.5"/>
<line x1="449.5" y1="57.4" x2="453.7" y2="57.4"/>
<line x1="449.5" y1="190" x2="453.7" y2="190"/>
<line x1="451.2" y1="123.7" x2="453.7" y2="123.7"/>
</g>
<line x1="453.8" y1="60" x2="453.8" y2="190" stroke="#c03030" stroke-width="1.3" stroke-opacity="0.5"/>
<path d="M454.00 57.40 L454.50 57.46 L455.00 57.63 L455.50 57.91 L456.00 58.31 L456.50 58.81 L457.00 59.43 L457.50 60.16 L458.00 61.00 L458.50 61.95 L459.00 63.00 L459.50 64.16 L460.00 65.42 L460.50 66.78 L461.00 68.25 L461.50 69.80 L462.00 71.46 L462.50 73.20 L463.00 75.03 L463.50 76.96 L464.00 78.96 L464.50 81.04 L465.00 83.21 L465.50 85.44 L466.00 87.75 L466.50 90.12 L467.00 92.56 L467.50 95.06 L468.00 97.62 L468.50 100.23 L469.00 102.88 L469.50 105.58 L470.00 108.33 L470.50 111.11 L471.00 113.92 L471.50 116.76 L472.00 119.63 L472.50 122.52 L473.00 125.42 L473.50 128.34 L474.00 131.26 L474.50 134.19 L475.00 137.12 L475.50 140.05 L476.00 142.97 L476.50 145.88 L477.00 148.77 L477.50 151.64 L478.00 154.49 L478.50 157.31 L479.00 160.10 L479.50 162.86 L480.00 165.58 L480.50 168.26 L481.00 170.89 L481.50 173.48 L482.00 176.01 L482.50 178.49 L483.00 180.92 L483.50 183.28 L484.00 185.59 L484.50 187.83 L485.00 190.00 L485.50 187.90 L486.00 185.86 L486.50 183.90 L487.00 182.02 L487.50 180.21 L488.00 178.48 L488.50 176.83 L489.00 175.26 L489.50 173.77 L490.00 172.36 L490.50 171.04 L491.00 169.80 L491.50 168.64 L492.00 167.57 L492.50 166.59 L493.00 165.68 L493.50 164.87 L494.00 164.13 L494.50 163.48 L495.00 162.92 L495.50 162.43 L496.00 162.03 L496.50 161.71 L497.00 161.47 L497.50 161.30 L498.00 161.21 L498.50 161.20 L499.00 161.26 L499.50 161.39 L500.00 161.59 L500.50 161.86 L501.00 162.20 L501.50 162.60 L502.00 163.06 L502.50 163.57 L503.00 164.15 L503.50 164.78 L504.00 165.46 L504.50 166.19 L505.00 166.97 L505.50 167.79 L506.00 168.65 L506.50 169.54 L507.00 170.48 L507.50 171.44 L508.00 172.44 L508.50 173.46 L509.00 174.50 L509.50 175.57 L510.00 176.65 L510.50 177.75 L511.00 178.86 L511.50 179.98 L512.00 181.10 L512.50 182.23 L513.00 183.36 L513.50 184.49 L514.00 185.61 L514.50 186.73 L515.00 187.83 L515.50 188.92 L516.00 190.00 L516.50 188.94 L517.00 187.90 L517.50 186.88 L518.00 185.88 L518.50 184.92 L519.00 183.97 L519.50 183.06 L520.00 182.18 L520.50 181.33 L521.00 180.52 L521.50 179.75 L522.00 179.01 L522.50 178.31 L523.00 177.65 L523.50 177.03 L524.00 176.45 L524.50 175.92 L525.00 175.43 L525.50 174.98 L526.00 174.58 L526.50 174.22 L527.00 173.91 L527.50 173.64 L528.00 173.42 L528.50 173.24 L529.00 173.11 L529.50 173.02 L530.00 172.98 L530.50 172.98 L531.00 173.03 L531.50 173.12 L532.00 173.25 L532.50 173.42 L533.00 173.63 L533.50 173.88 L534.00 174.17 L534.50 174.49 L535.00 174.85 L535.50 175.25 L536.00 175.67 L536.50 176.13 L537.00 176.62 L537.50 177.14 L538.00 177.68 L538.50 178.25 L539.00 178.84 L539.50 179.46 L540.00 180.09 L540.50 180.74 L541.00 181.41 L541.50 182.09 L542.00 182.78 L542.50 183.49 L543.00 184.20 L543.50 184.92 L544.00 185.65 L544.50 186.38 L545.00 187.11 L545.50 187.83 L546.00 188.56 L546.50 189.28 L547.00 190.00 L547.50 189.29 L548.00 188.59 L548.50 187.90 L549.00 187.23 L549.50 186.57 L550.00 185.92 L550.50 185.29 L551.00 184.68 L551.50 184.09 L552.00 183.52 L552.50 182.97 L553.00 182.45 L553.50 181.95 L554.00 181.48 L554.50 181.03 L555.00 180.61 L555.50 180.22 L556.00 179.86 L556.50 179.52 L557.00 179.22 L557.50 178.95 L558.00 178.70 L558.50 178.49 L559.00 178.31 L559.50 178.17 L560.00 178.05 L560.50 177.97 L561.00 177.91 L561.50 177.89 L562.00 177.90 L562.50 177.94 L563.00 178.01 L563.50 178.11 L564.00 178.24 L564.50 178.40 L565.00 178.59 L565.50 178.80 L566.00 179.04 L566.50 179.31 L567.00 179.60 L567.50 179.92 L568.00 180.26 L568.50 180.62 L569.00 181.00 L569.50 181.40 L570.00 181.82 L570.50 182.26 L571.00 182.72 L571.50 183.18 L572.00 183.67 L572.50 184.16 L573.00 184.66 L573.50 185.18 L574.00 185.70 L574.50 186.23 L575.00 186.76 L575.50 187.30 L576.00 187.84 L576.50 188.38 L577.00 188.92 L577.50 189.46 L578.00 190.00 L578.50 189.47 L579.00 188.94 L579.50 188.42 L580.00 187.91 L580.50 187.41 L581.00 186.92 L581.50 186.44 L582.00 185.97 L582.50 185.52 L583.00 185.08 L583.50 184.66 L584.00 184.25 L584.50 183.86 L585.00 183.49 L585.50 183.14 L586.00 182.82 L586.50 182.51 L587.00 182.22 L587.50 181.96 L588.00 181.71 L588.50 181.49 L589.00 181.30 L589.50 181.13 L590.00 180.98 L590.50 180.85 L591.00 180.75 L591.50 180.68 L592.00 180.63" fill="none" stroke="#22802a" stroke-width="1.8"/>
<line x1="495" y1="73.9" x2="537.5" y2="73.9" stroke="#22802a" stroke-width="2"/>
<line x1="495" y1="105.1" x2="537.5" y2="105.1" stroke="#e82020" stroke-width="2"/>
<g fill="#000">
<g transform="matrix(1.0281 0.0000 0.0000 1.0281 10.707 28.533)"><text x="0" y="0" font-family="Liberation Sans" font-size="23" >(e)</text></g>
<g transform="matrix(0.9913 0.0000 0.0000 1.0059 33.617 68.800)"><text x="0" y="0" font-family="Liberation Sans" font-size="23" >15</text></g>
<g transform="matrix(1.0217 0.0000 0.0000 1.0235 33.257 136.900)"><text x="0" y="0" font-family="Liberation Sans" font-size="23" >10</text></g>
<g transform="matrix(1.0118 0.0000 0.0000 1.0118 46.524 204.500)"><text x="0" y="0" font-family="Liberation Sans" font-size="23" >5</text></g>
<g transform="matrix(1.0294 0.0000 0.0000 1.0294 46.559 272.500)"><text x="0" y="0" font-family="Liberation Sans" font-size="23" >0</text></g>
<g transform="matrix(1.0421 0.0000 0.0000 1.0000 37.958 339.800)"><text x="0" y="0" font-family="Liberation Sans" font-size="23" >-5</text></g>
<g transform="matrix(1.0364 0.0000 0.0000 1.0000 273.564 65.600)"><text x="0" y="0" font-family="Liberation Sans" font-size="23" >3</text></g>
<g transform="matrix(1.1182 0.0000 0.0000 1.0118 272.982 135.100)"><text x="0" y="0" font-family="Liberation Sans" font-size="23" >2</text></g>
<g transform="matrix(1.0059 0.0000 0.0000 1.0059 272.559 203.900)"><text x="0" y="0" font-family="Liberation Sans" font-size="23" >1</text></g>
<g transform="matrix(1.0545 0.0000 0.0000 1.0412 273.345 273.900)"><text x="0" y="0" font-family="Liberation Sans" font-size="23" >0</text></g>
<g transform="matrix(0.9882 0.0000 0.0000 0.9882 272.024 342.700)"><text x="0" y="0" font-family="Liberation Sans" font-size="23" >-1</text></g>
<g transform="matrix(1.0600 0.0000 0.0000 1.0118 53.140 389.000)"><text x="0" y="0" font-family="Liberation Sans" font-size="23" >0.0</text></g>
<g transform="matrix(1.0567 0.0000 0.0000 1.0118 116.443 389.000)"><text x="0" y="0" font-family="Liberation Sans" font-size="23" >0.5</text></g>
<g transform="matrix(1.0862 0.0000 0.0000 1.0118 180.728 389.000)"><text x="0" y="0" font-family="Liberation Sans" font-size="23" >1.0</text></g>
<g transform="matrix(1.0862 0.0000 0.0000 1.0118 245.828 389.000)"><text x="0" y="0" font-family="Liberation Sans" font-size="23" >1.5</text></g>
<g transform="matrix(1.0732 0.0000 0.0000 0.9652 131.327 415.974)"><text x="0" y="0" font-family="Liberation Sans" font-size="23" ><tspan font-style="italic">t</tspan> (ms)</text></g>
<g transform="matrix(0.0000 -1.0208 0.9957 0.0000 31.722 226.521)"><text x="0" y="0" font-family="Liberation Sans" font-size="23" ><tspan font-style="italic">u</tspan> (V)</text></g>
<g transform="matrix(0.9773 0.0000 0.0000 0.9773 92.248 63.802)"><text x="0" y="0" font-family="Liberation Sans" font-size="23" font-style="italic">u</text></g>
<g transform="matrix(1.0600 0.0000 0.0000 1.0600 103.130 72.600)"><text x="0" y="0" font-family="Liberation Sans" font-size="15" >1</text></g>
<g transform="matrix(1.0741 0.0000 0.0000 1.0741 171.018 194.382)"><text x="0" y="0" font-family="Liberation Sans" font-size="23" font-style="italic">u</text></g>
<g transform="matrix(0.9500 0.0000 0.0000 1.0300 183.800 203.000)"><text x="0" y="0" font-family="Liberation Sans" font-size="15" >0</text></g>
<g transform="matrix(1.0364 0.0000 0.0000 0.9923 179.964 227.000)"><text x="0" y="0" font-family="Liberation Sans" font-size="19" >H</text></g>
<g transform="matrix(1.0534 0.0000 0.0000 1.0534 202.983 249.847)"><text x="0" y="0" font-family="Liberation Serif" font-size="19">λ</text></g>
<g transform="matrix(0.0000 -1.0066 1.0066 0.0000 314.283 306.493)"><text x="0" y="0" font-family="Liberation Sans" font-size="24" ><tspan font-family="Liberation Serif" font-style="italic">λ</tspan>/<tspan font-family="Liberation Serif" font-style="italic">λ</tspan><tspan font-size="15" dy="7">s</tspan><tspan dy="-7">, </tspan><tspan font-style="italic">H</tspan>/<tspan font-style="italic">H</tspan></text></g>
<g transform="matrix(1.0868 0.0000 0.0000 1.0868 335.938 28.364)"><text x="0" y="0" font-family="Liberation Sans" font-size="23" >(f)</text></g>
<g transform="matrix(1.0241 0.0000 0.0000 1.0000 357.452 80.200)"><text x="0" y="0" font-family="Liberation Sans" font-size="23" >1.6</text></g>
<g transform="matrix(1.0433 0.0000 0.0000 1.0000 356.857 175.600)"><text x="0" y="0" font-family="Liberation Sans" font-size="23" >0.4</text></g>
<g transform="matrix(1.0433 0.0000 0.0000 1.0000 356.857 270.200)"><text x="0" y="0" font-family="Liberation Sans" font-size="23" >0.2</text></g>
<g transform="matrix(1.0433 0.0000 0.0000 1.0000 356.857 364.800)"><text x="0" y="0" font-family="Liberation Sans" font-size="23" >0.0</text></g>
<g transform="matrix(1.0000 0.0000 0.0000 1.0118 394.000 390.200)"><text x="0" y="0" font-family="Liberation Sans" font-size="23" >0</text></g>
<g transform="matrix(0.9917 0.0000 0.0000 1.0118 458.017 390.200)"><text x="0" y="0" font-family="Liberation Sans" font-size="23" >100</text></g>
<g transform="matrix(0.9865 0.0000 0.0000 1.0118 535.514 390.200)"><text x="0" y="0" font-family="Liberation Sans" font-size="23" >200</text></g>
<g transform="matrix(1.0769 0.0000 0.0000 0.9652 471.923 418.374)"><text x="0" y="0" font-family="Liberation Sans" font-size="23" ><tspan font-style="italic">f</tspan> (kHz)</text></g>
<g transform="matrix(0.0000 -1.0143 0.9696 0.0000 351.252 141.200)"><text x="0" y="0" font-family="Liberation Sans" font-size="23" ><tspan font-style="italic">g</tspan> (V)</text></g>
<g transform="matrix(0.9846 0.0000 0.0000 0.9667 412.200 46.567)"><text x="0" y="0" font-family="Liberation Sans" font-size="23" font-style="italic">g</text></g>
<g transform="matrix(0.9250 0.0000 0.0000 0.8600 425.600 56.600)"><text x="0" y="0" font-family="Liberation Sans" font-size="15" >0</text></g>
<g transform="matrix(1.0308 0.0000 0.0000 0.9944 406.100 146.028)"><text x="0" y="0" font-family="Liberation Sans" font-size="23" font-style="italic">g</text></g>
<g transform="matrix(0.9800 0.0000 0.0000 0.9800 418.890 155.500)"><text x="0" y="0" font-family="Liberation Sans" font-size="15" >1</text></g>
<g transform="matrix(0.9692 0.0000 0.0000 0.9722 509.900 272.139)"><text x="0" y="0" font-family="Liberation Sans" font-size="23" font-style="italic">g</text></g>
<g transform="matrix(0.9857 0.0000 0.0000 1.0600 521.914 281.900)"><text x="0" y="0" font-family="Liberation Sans" font-size="15" >2</text></g>
<g transform="matrix(1.0754 0.0000 0.0000 1.0754 448.361 301.279)"><text x="0" y="0" font-family="Liberation Sans" font-size="23" font-style="italic">f</text></g>
<g transform="matrix(1.0600 0.0000 0.0000 1.0600 453.130 309.700)"><text x="0" y="0" font-family="Liberation Sans" font-size="15" >1</text></g>
<g transform="matrix(0.9317 0.0000 0.0000 0.9317 574.857 328.886)"><text x="0" y="0" font-family="Liberation Sans" font-size="23" font-style="italic">f</text></g>
<g transform="matrix(0.9857 0.0000 0.0000 0.8900 580.514 338.300)"><text x="0" y="0" font-family="Liberation Sans" font-size="15" >2</text></g>
<g transform="matrix(1.0333 0.0000 0.0000 1.0077 449.467 210.000)"><text x="0" y="0" font-family="Liberation Sans" font-size="19" >0</text></g>
<g transform="matrix(1.0222 0.0000 0.0000 1.0077 488.978 210.000)"><text x="0" y="0" font-family="Liberation Sans" font-size="19" >3</text></g>
<g transform="matrix(1.0667 0.0000 0.0000 1.0077 530.933 210.000)"><text x="0" y="0" font-family="Liberation Sans" font-size="19" >6</text></g>
<g transform="matrix(1.0222 0.0000 0.0000 1.0077 570.978 210.000)"><text x="0" y="0" font-family="Liberation Sans" font-size="19" >9</text></g>
<g transform="matrix(1.0370 0.0000 0.0000 1.0176 496.463 231.029)"><text x="0" y="0" font-family="Liberation Sans" font-size="19" ><tspan font-style="italic">f</tspan> (kHz)</text></g>
<g transform="matrix(0.0000 -1.0161 1.0000 0.0000 444.000 140.516)"><text x="0" y="0" font-family="Liberation Sans" font-size="19" >norm. g</text></g>
<g transform="matrix(0.9000 0.0000 0.0000 0.9000 441.150 63.200)"><text x="0" y="0" font-family="Liberation Sans" font-size="19" >1</text></g>
<g transform="matrix(1.0889 0.0000 0.0000 1.0000 438.411 195.000)"><text x="0" y="0" font-family="Liberation Sans" font-size="19" >0</text></g>
<g transform="matrix(1.0911 0.0000 0.0000 1.0911 543.545 80.923)"><text x="0" y="0" font-family="Liberation Sans" font-size="18" >g</text></g>
<g transform="matrix(1.1443 0.0000 0.0000 1.1443 552.824 87.505)"><text x="0" y="0" font-family="Liberation Sans" font-size="12" >rec</text></g>
<g transform="matrix(1.0867 0.0000 0.0000 1.0588 570.213 80.965)"><text x="0" y="0" font-family="Liberation Sans" font-size="18" >(f)</text></g>
<g transform="matrix(1.0875 0.0000 0.0000 1.0071 542.913 110.071)"><text x="0" y="0" font-family="Liberation Sans" font-size="18" >g</text></g>
<g transform="matrix(1.0743 0.0000 0.0000 1.0743 553.690 117.910)"><text x="0" y="0" font-family="Liberation Sans" font-size="12" >u</text></g>
<g transform="matrix(1.0933 0.0000 0.0000 1.0706 560.307 110.618)"><text x="0" y="0" font-family="Liberation Sans" font-size="18" >(f)</text></g>
</g>
<path d="M294.5 219.7 L287.6 223.2 L294.5 226.8" fill="none" stroke="#000" stroke-width="1.3"/>
</svg>
</body></html>
